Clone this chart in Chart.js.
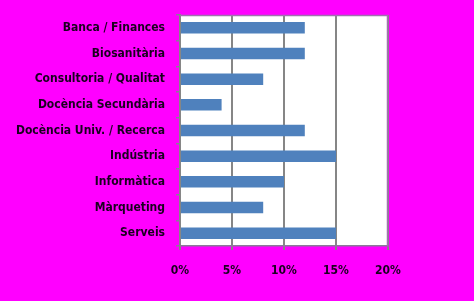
<!DOCTYPE html>
<html><head><meta charset="utf-8">
<script src="https://cdn.jsdelivr.net/npm/chart.js@4/dist/chart.umd.min.js"></script>
<style>html,body{margin:0;padding:0;background:#FF00FF;}#w{width:474px;height:301px;}</style>
</head><body><div id="w"><canvas id="c" width="474" height="301"></canvas></div>
<script>
const categories = ["Banca / Finances","Biosanitària","Consultoria / Qualitat","Docència Secundària","Docència Univ. / Recerca","Indústria","Informàtica","Màrqueting","Serveis"];
const values = [12,12,8,4,12,15,10,8,15];
const xTicks = [0,5,10,15,20];

const plotBg = {
  id:'plotBg',
  beforeDraw(chart){
    const {ctx, chartArea:a} = chart;
    ctx.save(); ctx.fillStyle='#FFFFFF';
    ctx.fillRect(a.left,a.top,a.right-a.left,a.bottom-a.top); ctx.restore();
  },
  afterDraw(chart){
    const {ctx, chartArea:a} = chart;
    ctx.save(); ctx.strokeStyle='#A070B0'; ctx.lineWidth=1.5;
    ctx.beginPath(); ctx.moveTo(a.left,a.top+0.5); ctx.lineTo(a.right,a.top+0.5);
    ctx.moveTo(a.right-0.5,a.top); ctx.lineTo(a.right-0.5,a.bottom); ctx.stroke(); ctx.restore();
  }
};
const FONT = "'Liberation Sans Narrow','DejaVu Sans Condensed',sans-serif";

new Chart(document.getElementById('c'), {
  type:'bar',
  data:{labels:categories, datasets:[{data:values, backgroundColor:'#4F81BD', barPercentage:0.45, categoryPercentage:1}]},
  options:{
    indexAxis:'y', responsive:false, animation:false,
    layout:{padding:{left:0,right:86,top:15,bottom:0}},
    plugins:{legend:{display:false}, tooltip:{enabled:false}},
    scales:{
      x:{min:0,max:20,
        afterBuildTicks(s){ s.ticks = xTicks.map(v=>({value:v})); },
        afterFit(s){ s.height = 55; s.paddingLeft = 0; s.paddingRight = 0; },
        ticks:{callback:v=>v+'%', color:'#1A0020', padding:14, maxRotation:0,
          font:{family:FONT, size:12, weight:'bold'}},
        grid:{color:'#868686', lineWidth:2, tickLength:4},
        border:{color:'#8A7A9A', width:1.5}
      },
      y:{
        afterFit(s){ s.width = 180; s.paddingTop = 0; s.paddingBottom = 0; },
        ticks:{color:'#1A0020', padding:11,
          font:{family:FONT, size:12, weight:'bold'}},
        grid:{offset:true, drawOnChartArea:false, color:'#8A7A9A', tickLength:4, lineWidth:1.5},
        border:{color:'#868686', width:2}
      }
    }
  },
  plugins:[plotBg]
});
</script></body></html>
